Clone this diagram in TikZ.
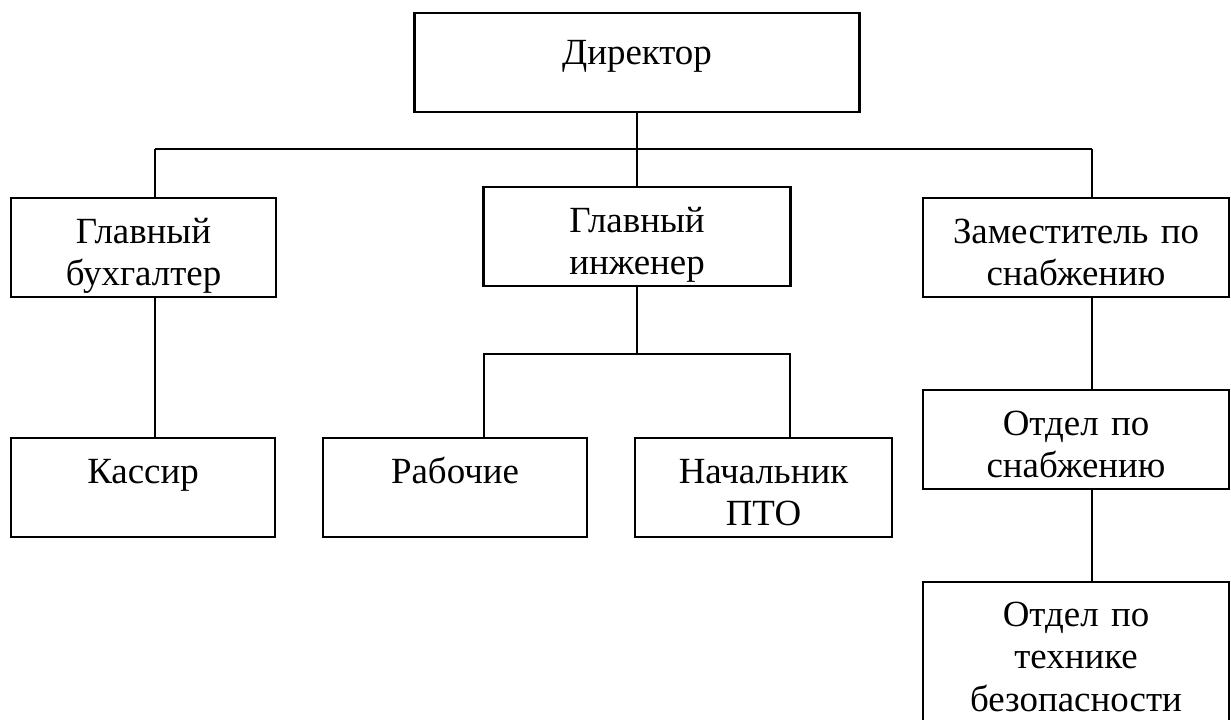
\documentclass[tikz,border=0pt]{standalone}
\usepackage{fontspec}
\setmainfont{Liberation Serif}
\usetikzlibrary{positioning}

\begin{document}
\begin{tikzpicture}[
    unit/.style={draw, line width=0.6pt, inner sep=0pt, align=center,
      font=\fontsize{10.5pt}{12.2pt}\selectfont,
      anchor=north, text height=0.45cm, text depth=0.54cm},
    link/.style={line width=0.6pt},
  ]
    \useasboundingbox (0,0) rectangle (12.31,-7.20);

    % Top level
    \node[unit, text width=4.45cm, text height=0.51cm, text depth=0.48cm]
      (dir) at (6.37,-0.12) {Директор};

    % Second level
    \node[unit, text width=2.65cm] (buh) at (1.435,-1.97) {Главный\\бухгалтер};
    \node[unit, text width=3.07cm] (eng) at (6.37,-1.86) {Главный\\инженер};
    \node[unit, text width=3.06cm] (zam) at (10.76,-1.97) {Заместитель по\\снабжению};

    % Third level
    \node[unit, text width=2.64cm] (kas)  at (1.43,-4.37) {Кассир};
    \node[unit, text width=2.64cm] (rab)  at (4.55,-4.37) {Рабочие};
    \node[unit, text width=2.57cm] (nach) at (7.635,-4.37) {Начальник\\ПТО};
    \node[unit, text width=3.06cm] (otd)  at (10.76,-3.89) {Отдел по\\снабжению};
    \node[unit, text width=3.06cm, text height=0.44cm, text depth=1.0cm]
      (otb) at (10.76,-5.81) {Отдел по\\технике\\безопасности};

    % Bus under the director
    \coordinate (busL) at (1.55,-1.49);
    \coordinate (busR) at (10.92,-1.49);
    \draw[link] (busL) -- (busR);
    \draw[link] (dir.south) -- (eng.north);
    \draw[link] (busL) -- (busL |- buh.north);
    \draw[link] (busR) -- (busR |- zam.north);

    % Branches
    \draw[link] (busL |- buh.south) -- (busL |- kas.north);
    \coordinate (subL) at (4.84,-3.54);
    \coordinate (subR) at (7.90,-3.54);
    \draw[link] (eng.south) -- (eng.south |- subL);
    \draw[link] (subL |- rab.north) -- (subL) -- (subR) -- (subR |- nach.north);
    \draw[link] (busR |- zam.south) -- (busR |- otd.north);
    \draw[link] (busR |- otd.south) -- (busR |- otb.north);
\end{tikzpicture}
\end{document}
